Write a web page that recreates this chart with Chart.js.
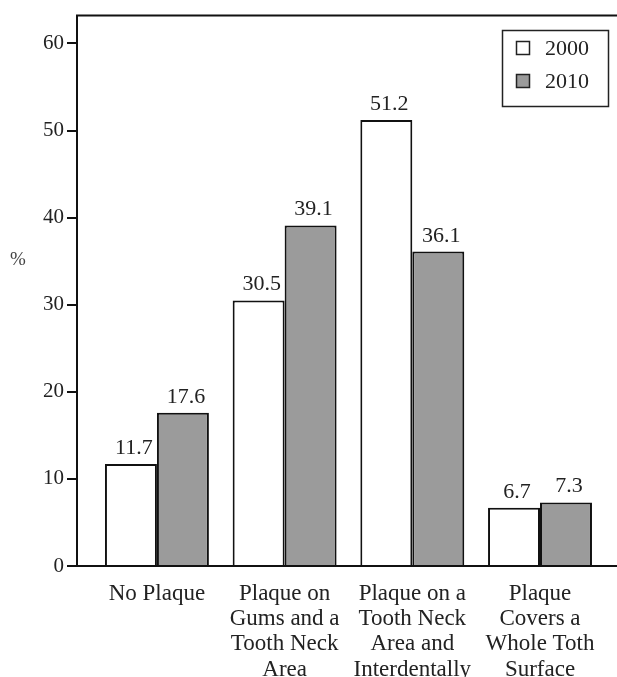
<!DOCTYPE html>
<html>
<head>
<meta charset="utf-8">
<script src="https://cdn.jsdelivr.net/npm/chart.js@4/dist/chart.umd.min.js"></script>
<style>
html,body{margin:0;padding:0;background:#fff;}
#wrap{width:617px;height:677px;position:relative;}
</style>
</head>
<body>
<div id="wrap"><canvas id="c"></canvas></div>
<script>
const categories = [
  ["No Plaque"],
  ["Plaque on", "Gums and a", "Tooth Neck", "Area"],
  ["Plaque on a", "Tooth Neck", "Area and", "Interdentally"],
  ["Plaque", "Covers a", "Whole Toth", "Surface"]
];
const seriesNames = ["2000", "2010"];
const values2000 = [11.7, 30.5, 51.2, 6.7];
const values2010 = [17.6, 39.1, 36.1, 7.3];
const yTicks = [0, 10, 20, 30, 40, 50, 60];
const yTitle = "%";

const FONT = "'Liberation Serif', 'Times New Roman', serif";
const TEXT = "#222";

const toPoints = vals => vals.map((v, i) => ({x: i + 1, y: v}));

const extras = {
  id: 'extras',
  afterDraw(chart) {
    const ctx = chart.ctx;
    const ca = chart.chartArea;
    ctx.save();
    // top frame line
    ctx.strokeStyle = '#111';
    ctx.lineWidth = 2;
    ctx.beginPath();
    ctx.moveTo(ca.left - 1, ca.top);
    ctx.lineTo(chart.width, ca.top);
    ctx.stroke();
    // value labels
    ctx.fillStyle = TEXT;
    ctx.font = "22px " + FONT;
    ctx.textAlign = 'center';
    ctx.textBaseline = 'alphabetic';
    chart.data.datasets.forEach((ds, di) => {
      const meta = chart.getDatasetMeta(di);
      meta.data.forEach((bar, i) => {
        ctx.fillText(ds.data[i].y.toFixed(1), bar.x + 3, bar.y - 10);
      });
    });
    // y title
    ctx.font = "19px " + FONT;
    ctx.fillStyle = '#444';
    ctx.textBaseline = 'middle';
    ctx.fillText(yTitle, 18, 260);
    // legend
    ctx.lineWidth = 1.5;
    ctx.strokeStyle = '#222';
    ctx.strokeRect(502.5, 30.5, 106, 76);
    ctx.font = "22px " + FONT;
    ctx.textAlign = 'left';
    chart.data.datasets.forEach((ds, di) => {
      const cy = 48 + di * 33;
      ctx.fillStyle = ds.backgroundColor;
      ctx.fillRect(516.5, cy - 6.5, 13, 13);
      ctx.strokeStyle = '#222';
      ctx.strokeRect(516.5, cy - 6.5, 13, 13);
      ctx.fillStyle = TEXT;
      ctx.fillText(ds.label, 545, cy + 1);
    });
    ctx.restore();
  }
};

new Chart(document.getElementById('c'), {
  type: 'bar',
  data: {
    datasets: [
      {label: seriesNames[0], data: toPoints(values2000), backgroundColor: '#ffffff', borderColor: '#111', borderWidth: 2},
      {label: seriesNames[1], data: toPoints(values2010), backgroundColor: '#9b9b9b', borderColor: '#111', borderWidth: 2}
    ]
  },
  options: {
    responsive: true,
    maintainAspectRatio: false,
    animation: false,
    categoryPercentage: 0.814,
    barPercentage: 1.0,
    layout: {padding: {top: 13, left: 0, right: 0, bottom: 0}},
    plugins: {legend: {display: false}, tooltip: {enabled: false}},
    scales: {
      x: {
        type: 'linear',
        offset: false,
        min: 0.374,
        max: 4.603,
        afterBuildTicks: s => { s.ticks = categories.map((c, i) => ({value: i + 1})); },
        afterFit: s => { s.height = 111; },
        grid: {display: false, drawTicks: false, offset: false},
        border: {display: true, color: '#111', width: 2},
        ticks: {
          autoSkip: false,
          maxRotation: 0,
          padding: 15,
          color: TEXT,
          font: {family: FONT, size: 23, lineHeight: 1.1},
          callback: v => categories[Math.round(v) - 1]
        }
      },
      y: {
        min: 0,
        max: 63.2,
        afterBuildTicks: s => { s.ticks = yTicks.map(v => ({value: v})); },
        afterFit: s => { s.width = 77; },
        grid: {drawOnChartArea: false, drawTicks: true, tickLength: 10, color: '#111', lineWidth: 2},
        border: {display: true, color: '#111', width: 2},
        ticks: {padding: 3, color: TEXT, font: {family: FONT, size: 21}}
      }
    }
  },
  plugins: [extras]
});
</script>
</body>
</html>
